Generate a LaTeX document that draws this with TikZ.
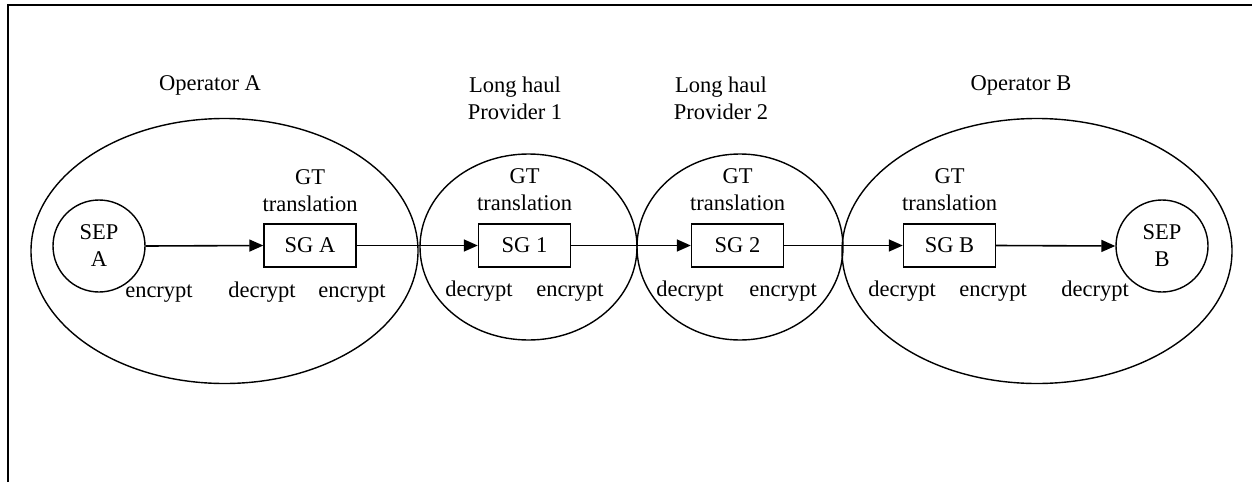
\documentclass[tikz,border=0pt]{standalone}
\usepackage{fontspec}
\setmainfont{Liberation Serif}
\usetikzlibrary{arrows.meta,shapes.geometric}
\begin{document}
\begin{tikzpicture}[x=1pt,y=-1pt,
  every node/.style={font=\fontsize{22.5}{27}\selectfont, inner sep=0pt},
  zone/.style={draw, ellipse, line width=1.4pt, minimum width=#1},
  sep/.style={draw, circle, line width=1.4pt, minimum size=92pt, align=center},
  gw/.style={draw, rectangle, line width=1.4pt, minimum width=92pt, minimum height=43pt},
  lbl/.style={align=center},
  cry/.style={text height=15pt, text depth=5pt},
  flow/.style={line width=1.6pt, -{Triangle[length=14pt,width=12pt]}}]
\useasboundingbox (0,0) rectangle (1252,482);
\draw[line width=2.4pt] (8,482) -- (8,5) -- (1252,5);
% zones
\node[zone=387pt, minimum height=265pt] (zA) at (224.5,251) {};
\node[zone=217pt, minimum height=186pt] (z1) at (528.5,247) {};
\node[zone=206pt, minimum height=186pt] (z2) at (740,247) {};
\node[zone=390pt, minimum height=265pt] (zB) at (1037,251) {};
% titles
\node[lbl] (tA) at (210,85) {Operator A};
\node[lbl] (t1) at (515,98) {Long haul\\Provider 1};
\node[lbl] (t2) at (721,98) {Long haul\\Provider 2};
\node[lbl] (tB) at (1021,85) {Operator B};
% end points and gateways
\node[sep] (sepA) at (99,246) {SEP\\A};
\node[sep] (sepB) at (1162,246) {SEP\\B};
\node[gw] (sgA) at (310,245.5) {SG A};
\node[gw] (sg1) at (524.5,245.5) {SG 1};
\node[gw] (sg2) at (737.5,245.5) {SG 2};
\node[gw] (sgB) at (949.5,245.5) {SG B};
% GT translation labels
\node[lbl] (gA) at (310,191) {GT\\translation};
\node[lbl] (g1) at (524.5,190) {GT\\translation};
\node[lbl] (g2) at (737.5,190) {GT\\translation};
\node[lbl] (gB) at (949.5,190) {GT\\translation};
% encrypt / decrypt
\node[cry] (e0) at (159,292) {encrypt};
\node[cry] (d1) at (262,292) {decrypt};
\node[cry] (e1) at (352,292) {encrypt};
\node[cry] (d2) at (479,291) {decrypt};
\node[cry] (e2) at (570,291) {encrypt};
\node[cry] (d3) at (690,291) {decrypt};
\node[cry] (e3) at (783,291) {encrypt};
\node[cry] (d4) at (902,291) {decrypt};
\node[cry] (e4) at (993,291) {encrypt};
\node[cry] (d5) at (1095,291) {decrypt};
% flows
\draw[flow] (sepA.east) -- (sgA.west);
\draw[flow] (sgA.east) -- (sg1.west);
\draw[flow] (sg1.east) -- (sg2.west);
\draw[flow] (sg2.east) -- (sgB.west);
\draw[flow] (sgB.east) -- (sepB.west);
\end{tikzpicture}
\end{document}
